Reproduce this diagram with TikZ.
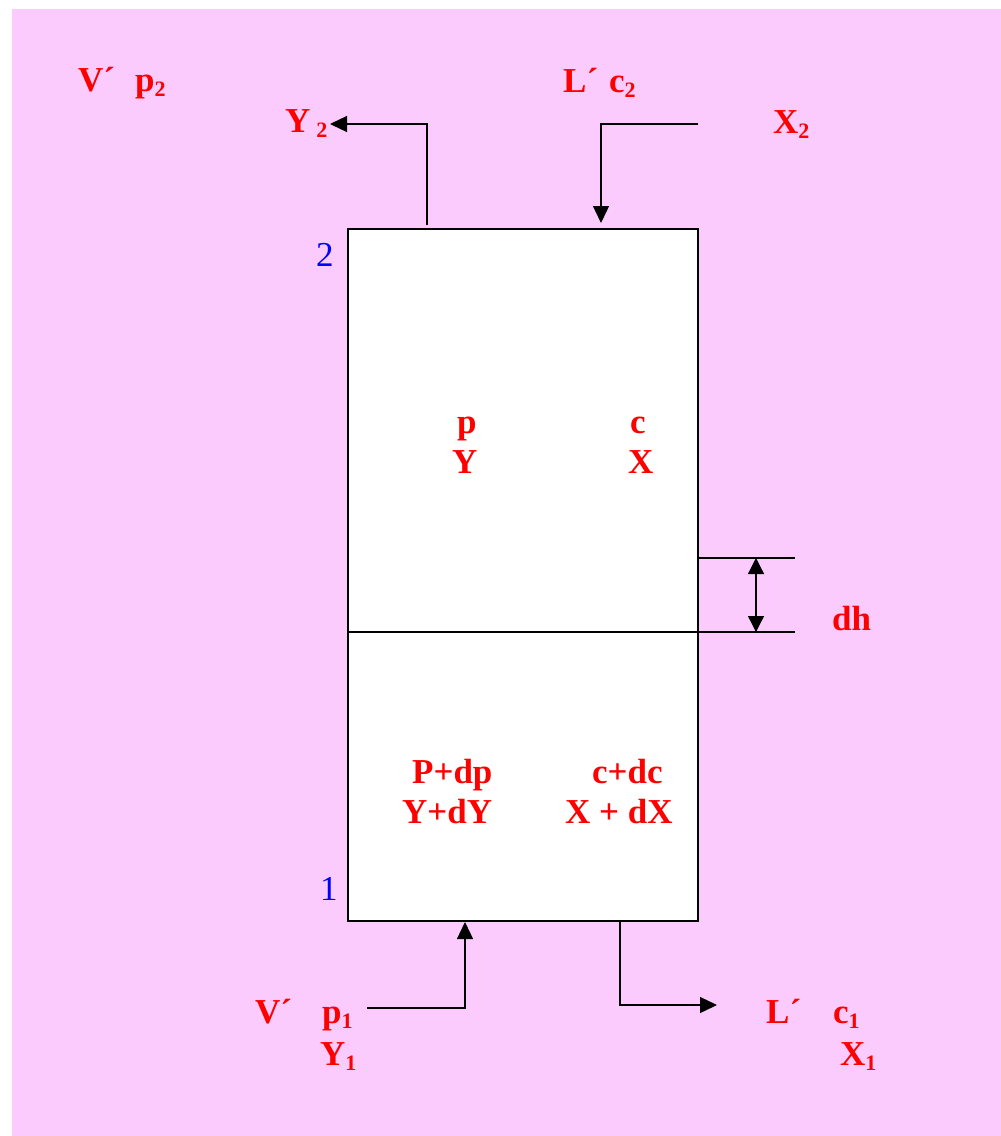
\documentclass[tikz,border=0pt]{standalone}
\usepackage{fontspec}
\setmainfont{Liberation Serif}
\usetikzlibrary{arrows.meta}
\definecolor{bgpink}{RGB}{251,203,254}
\definecolor{lblred}{RGB}{255,0,0}
\definecolor{lblblue}{RGB}{0,0,255}
\newcommand{\lowsub}[1]{\raisebox{-5pt}{\fontsize{22}{24}\selectfont #1}}

\begin{document}
\begin{tikzpicture}[x=1pt,y=-1pt,
  lbl/.style={anchor=base west,inner sep=0pt,text=lblred,font=\fontsize{35}{40}\selectfont\bfseries},
  num/.style={anchor=base west,inner sep=0pt,text=lblblue,font=\fontsize{35}{40}\selectfont},
  flow/.style={line width=1.3pt,-{Triangle[length=17pt,width=16pt]}},
  wall/.style={line width=1.3pt}]
% background and column element
\useasboundingbox (0,0) rectangle (1001,1136);
\fill[white] (0,0) rectangle (1001,1136);
\fill[bgpink] (12,9) rectangle (1001,1136);
\coordinate (boxtl) at (348,229);
\coordinate (boxbr) at (698,921);
\draw[wall,fill=white] (boxtl) rectangle (boxbr);
\coordinate (midL) at (348,632);
\coordinate (midR) at (795,632);
\coordinate (sliceL) at (698,558);
\coordinate (sliceR) at (795,558);
\draw[wall] (midL) -- (midR);
\draw[wall] (sliceL) -- (sliceR);
\coordinate (dhtop) at (756,558);
\coordinate (dhbot) at (756,632);
\draw[wall,{Triangle[length=16pt,width=16pt]}-{Triangle[length=16pt,width=16pt]}] (dhtop) -- (dhbot);
% streams in and out
\coordinate (gasout) at (427,225);
\coordinate (gasoutend) at (330,124);
\draw[flow] (gasout) |- (gasoutend);
\coordinate (liqin) at (698,124);
\coordinate (liqinend) at (601,223);
\draw[flow] (liqin) -| (liqinend);
\coordinate (gasin) at (367,1008);
\coordinate (gasinend) at (465,922);
\draw[flow] (gasin) -| (gasinend);
\coordinate (liqout) at (620,921);
\coordinate (liqoutend) at (717,1005);
\draw[flow] (liqout) |- (liqoutend);
% labels
\node[lbl] (Vtop) at (78,91) {V´};
\node[lbl] (ptop) at (135,91) {p\lowsub{2}};
\node[lbl] (Ytop) at (285,132) {Y\,\lowsub{2}};
\node[lbl] (Ltop) at (563,92) {L´};
\node[lbl] (ctop) at (609,92) {c\lowsub{2}};
\node[lbl] (Xtop) at (773,133) {X\lowsub{2}};
\node[num] (endtwo) at (316,266) {2};
\node[num] (endone) at (320,900) {1};
\node[lbl] (pmid) at (457,433) {p};
\node[lbl] (Ymid) at (452,473) {Y};
\node[lbl] (cmid) at (630,433) {c};
\node[lbl] (Xmid) at (628,473) {X};
\node[lbl] (pdp) at (412,783) {P+dp};
\node[lbl] (YdY) at (402,823) {Y+dY};
\node[lbl] (cdc) at (592,783) {c+dc};
\node[lbl] (XdX) at (565,823) {X + dX};
\node[lbl] (dh) at (832,630) {dh};
\node[lbl] (Vbot) at (255,1023) {V´};
\node[lbl] (pbot) at (322,1023) {p\lowsub{1}};
\node[lbl] (Ybot) at (320,1065) {Y\lowsub{1}};
\node[lbl] (Lbot) at (766,1023) {L´};
\node[lbl] (cbot) at (833,1023) {c\lowsub{1}};
\node[lbl] (Xbot) at (840,1065) {X\lowsub{1}};
\end{tikzpicture}
\end{document}
